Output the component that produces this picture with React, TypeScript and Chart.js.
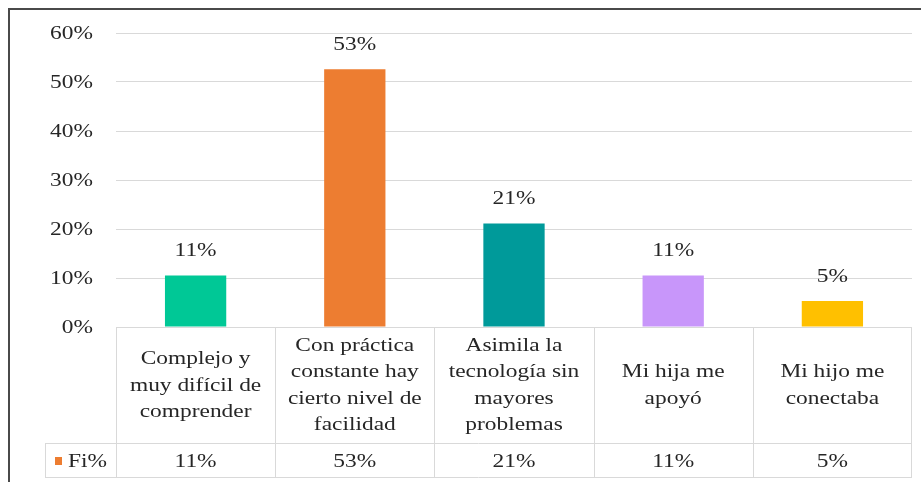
import React, { useEffect, useRef } from "react";
import { Chart, registerables } from "chart.js";

Chart.register(...registerables);

const categories: string[][] = [
  ["Complejo y", "muy difícil de", "comprender"],
  ["Con práctica", "constante hay", "cierto nivel de", "facilidad"],
  ["Asimila la", "tecnología sin", "mayores", "problemas"],
  ["Mi hija me", "apoyó"],
  ["Mi hijo me", "conectaba"],
];
const seriesName = "Fi%";
const fiValues: number[] = [10.5, 52.6, 21.1, 10.5, 5.3];
const barColors: string[] = ["#00C896", "#ED7D31", "#009A9A", "#C896FA", "#FFC000"];
const seriesColor = "#ED7D31";
const yTickValues: number[] = [0, 10, 20, 30, 40, 50, 60];

const FONT = "18px 'Liberation Serif', 'Times New Roman', serif";
const TEXT = "#262626";
const GRID = "#d9d9d9";
const SX = 1.3;

const fmt = (v: number) => `${Math.round(v)}%`;

function drawText(ctx: CanvasRenderingContext2D, text: string, x: number, y: number, align: CanvasTextAlign) {
  ctx.save();
  ctx.translate(x, y);
  ctx.scale(SX, 1);
  ctx.font = FONT;
  ctx.fillStyle = TEXT;
  ctx.textAlign = align;
  ctx.textBaseline = "middle";
  ctx.fillText(text, 0, 0);
  ctx.restore();
}

const tablePlugin = {
  id: "excelTable",
  afterDraw(chart: any) {
    const ctx: CanvasRenderingContext2D = chart.ctx;
    const xs = chart.scales.x;
    const ys = chart.scales.y;
    const area = chart.chartArea;
    const n = chart.data.labels.length;
    const colW = (area.right - area.left) / n;
    const top = area.bottom;
    const headerBottom = top + 116;
    const rowBottom = headerBottom + 34;
    const legendLeft = 45;

    // outer frame (top and left visible)
    ctx.save();
    ctx.strokeStyle = "#4a4a4a";
    ctx.lineWidth = 2;
    ctx.beginPath();
    ctx.moveTo(9, 1000);
    ctx.lineTo(9, 9);
    ctx.lineTo(2000, 9);
    ctx.stroke();
    ctx.restore();

    // table lines
    ctx.save();
    ctx.strokeStyle = GRID;
    ctx.lineWidth = 1;
    ctx.beginPath();
    ctx.moveTo(area.left, top + 0.5);
    ctx.lineTo(area.right, top + 0.5);
    ctx.moveTo(legendLeft, headerBottom + 0.5);
    ctx.lineTo(area.right, headerBottom + 0.5);
    ctx.moveTo(legendLeft, rowBottom + 0.5);
    ctx.lineTo(area.right, rowBottom + 0.5);
    ctx.moveTo(legendLeft + 0.5, headerBottom);
    ctx.lineTo(legendLeft + 0.5, rowBottom);
    for (let i = 0; i <= n; i++) {
      const bx = Math.round(xs.getPixelForValue(i) - colW / 2) + 0.5;
      const xx = i === n ? Math.round(xs.getPixelForValue(n - 1) + colW / 2) - 0.5 : bx;
      ctx.moveTo(xx, top);
      ctx.lineTo(xx, rowBottom);
    }
    ctx.stroke();
    ctx.restore();

    // category labels, vertically centred in header row
    const lh = 26.5;
    chart.data.labels.forEach((lab: string[], i: number) => {
      const cx = xs.getPixelForValue(i);
      const mid = (top + headerBottom) / 2;
      const start = mid - ((lab.length - 1) * lh) / 2;
      lab.forEach((line, j) => drawText(ctx, line, cx, start + j * lh + 1, "center"));
    });

    // data row
    const ds = chart.data.datasets[0];
    const rowMid = (headerBottom + rowBottom) / 2 + 2;
    ds.data.forEach((v: number, i: number) => {
      drawText(ctx, fmt(v), xs.getPixelForValue(i), rowMid, "center");
    });
    ctx.save();
    ctx.fillStyle = seriesColor;
    ctx.fillRect(55, rowMid - 5, 7, 8);
    ctx.restore();
    drawText(ctx, ds.label, 68, rowMid, "left");

    // y tick labels
    yTickValues.forEach((t) => {
      drawText(ctx, `${t}%`, area.left - 23, ys.getPixelForValue(t) + 1, "right");
    });

    // data labels above bars
    const meta = chart.getDatasetMeta(0);
    meta.data.forEach((bar: any, i: number) => {
      drawText(ctx, fmt(ds.data[i]), bar.x, bar.y - 24, "center");
    });
  },
};

export default function App() {
  const ref = useRef<HTMLCanvasElement | null>(null);
  useEffect(() => {
    if (!ref.current) return;
    const chart = new Chart(ref.current, {
      type: "bar",
      data: {
        labels: categories,
        datasets: [
          {
            label: seriesName,
            data: fiValues,
            backgroundColor: barColors,
            borderWidth: 0,
            barPercentage: 0.385,
            categoryPercentage: 1,
          },
        ],
      },
      options: {
        responsive: false,
        animation: false,
        devicePixelRatio: 1,
        layout: { padding: { top: 33, right: 9, left: 0, bottom: 0 } },
        plugins: { legend: { display: false }, tooltip: { enabled: false } },
        scales: {
          x: {
            grid: { display: false },
            border: { display: false },
            ticks: { display: false },
            afterFit: (s: any) => {
              s.height = 155;
            },
          },
          y: {
            min: 0,
            max: 60,
            ticks: { display: false, stepSize: 10 },
            grid: { color: GRID, drawTicks: false },
            border: { display: false },
            afterFit: (s: any) => {
              s.width = 116;
            },
          },
        },
      },
      plugins: [tablePlugin],
    });
    return () => chart.destroy();
  }, []);
  return (
    <div style={{ position: "absolute", left: 0, top: 0, width: 921, height: 482, background: "#fff" }}>
      <canvas ref={ref} width={921} height={482} style={{ display: "block" }} />
    </div>
  );
}
